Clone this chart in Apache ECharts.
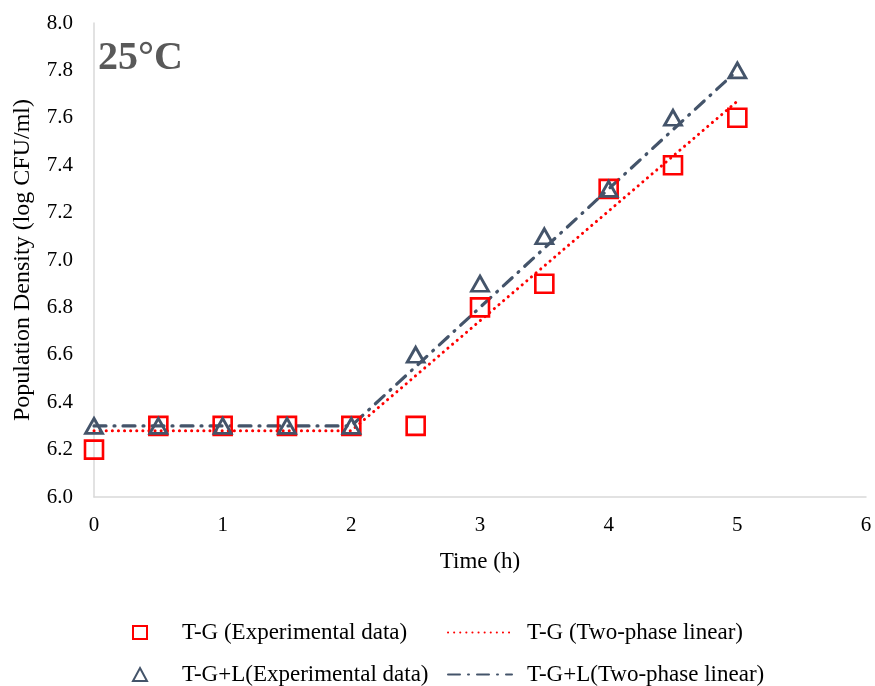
<!DOCTYPE html>
<html>
<head>
<meta charset="utf-8">
<script src="https://cdn.jsdelivr.net/npm/echarts@6/dist/echarts.min.js"></script>
<style>html,body{margin:0;padding:0;background:#fff;}#c{width:875px;height:686px;}</style>
</head>
<body>
<div id="c"></div>
<script>
const time = [0, 0.5, 1, 1.5, 2, 2.5, 3, 3.5, 4, 4.5, 5];
const tgExp = [6.2, 6.3, 6.3, 6.3, 6.3, 6.3, 6.8, 6.9, 7.3, 7.4, 7.6];
const tglExp = [6.3, 6.3, 6.3, 6.3, 6.3, 6.6, 6.9, 7.1, 7.3, 7.6, 7.8];
const modelTime = [0, 2, 5];
const tgModel = [6.28, 6.28, 7.67];
const tglModel = [6.3, 6.3, 7.8];
const xTicks = [0, 1, 2, 3, 4, 5, 6];
const yTicks = [6.0, 6.2, 6.4, 6.6, 6.8, 7.0, 7.2, 7.4, 7.6, 7.8, 8.0];

const RED = '#FF0000';
const GRAY = '#44546A';
const FONT = 'Liberation Serif';
const pair = (xs, ys) => xs.map((x, i) => [x, ys[i]]);

const chart = echarts.init(document.getElementById('c'));
chart.setOption({
  animation: false,
  backgroundColor: '#fff',
  textStyle: { fontFamily: FONT },
  title: {
    text: '25°C',
    left: 98, top: 39, padding: 0,
    textStyle: { fontFamily: FONT, fontSize: 40, fontWeight: 'bold', color: '#595959' }
  },
  grid: { left: 94, right: 9, top: 23, bottom: 189 },
  xAxis: {
    type: 'value', min: xTicks[0], max: xTicks[xTicks.length - 1], interval: 1,
    name: 'Time (h)', nameLocation: 'middle', nameGap: 53,
    nameTextStyle: { fontFamily: FONT, fontSize: 23, color: '#000' },
    axisLine: { show: true, lineStyle: { color: '#D9D9D9', width: 1.5 } },
    axisTick: { show: false },
    splitLine: { show: false },
    axisLabel: { fontFamily: FONT, fontSize: 21, color: '#000', margin: 18 }
  },
  yAxis: {
    type: 'value', min: yTicks[0], max: yTicks[yTicks.length - 1], interval: 0.2,
    name: 'Population Density (log CFU/ml)', nameLocation: 'middle', nameGap: 59,
    nameTextStyle: { fontFamily: FONT, fontSize: 24, color: '#000' },
    axisLine: { show: true, lineStyle: { color: '#D9D9D9', width: 1.5 } },
    axisTick: { show: false },
    splitLine: { show: false },
    axisLabel: { fontFamily: FONT, fontSize: 21, color: '#000', margin: 21,
      formatter: v => v.toFixed(1) }
  },
  legend: [
    {
      data: ['T-G (Experimental data)', 'T-G+L(Experimental data)'],
      orient: 'vertical', left: 132, top: 621, itemGap: 19, padding: 0,
      itemWidth: 14, itemHeight: 13,
      textStyle: { fontFamily: FONT, fontSize: 23, color: '#000', padding: [0, 0, 0, 30] }
    },
    {
      data: ['T-G (Two-phase linear)', 'T-G+L(Two-phase linear)'],
      orient: 'vertical', left: 447, top: 621, itemGap: 19, padding: 0,
      itemWidth: 64, itemHeight: 13,
      itemStyle: { opacity: 0 },
      textStyle: { fontFamily: FONT, fontSize: 23, color: '#000', padding: [0, 0, 0, 10] }
    }
  ],
  series: [
    {
      name: 'T-G (Two-phase linear)', type: 'line', data: pair(modelTime, tgModel),
      symbol: 'none', z: 2,
      lineStyle: { color: RED, width: 3, type: [0.1, 6], cap: 'round' },
      itemStyle: { color: RED }
    },
    {
      name: 'T-G+L(Two-phase linear)', type: 'line', data: pair(modelTime, tglModel),
      symbol: 'none', z: 2,
      lineStyle: { color: GRAY, width: 3.2, type: [12, 8, 1, 8], cap: 'round' },
      itemStyle: { color: GRAY }
    },
    {
      name: 'T-G (Experimental data)', type: 'scatter', data: pair(time, tgExp),
      symbol: 'rect', symbolSize: 18, z: 3,
      itemStyle: { color: 'rgba(255,255,255,0)', borderColor: RED, borderWidth: 2.6, opacity: 1 }
    },
    {
      name: 'T-G+L(Experimental data)', type: 'scatter', data: pair(time, tglExp),
      symbol: 'triangle', symbolSize: [17, 15], z: 4,
      itemStyle: { color: 'rgba(255,255,255,0)', borderColor: GRAY, borderWidth: 2.8, opacity: 1 }
    }
  ]
});
</script>
</body>
</html>
